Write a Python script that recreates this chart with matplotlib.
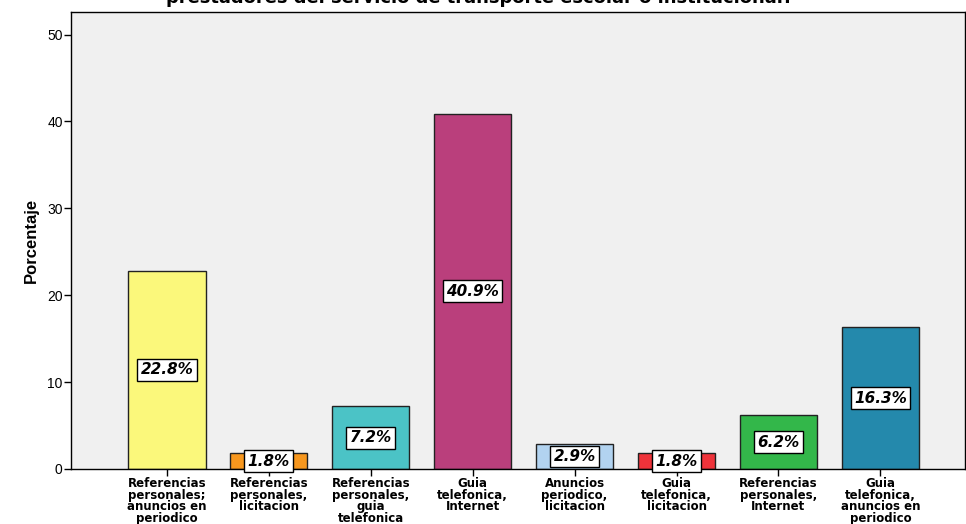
import matplotlib
matplotlib.use("Agg")
import matplotlib.pyplot as plt
import numpy as np

categorias = [
    "Referencias\npersonales;\nanuncios en\nperiodico",
    "Referencias\npersonales,\nlicitacion",
    "Referencias\npersonales,\nguia\ntelefonica",
    "Guia\ntelefonica,\nInternet",
    "Anuncios\nperiodico,\nlicitacion",
    "Guia\ntelefonica,\nlicitacion",
    "Referencias\npersonales,\nInternet",
    "Guia\ntelefonica,\nanuncios en\nperiodico",
]
porcentajes = [22.8, 1.8, 7.2, 40.9, 2.9, 1.8, 6.2, 16.3]
colores = ["#FBF87B", "#F7971E", "#4BC3C6", "#BA3F7C",
           "#B2D3F0", "#EE333A", "#33B74A", "#2489AC"]

titulo = "prestadores del servicio de transporte escolar o institucional?"

fig = plt.figure(figsize=(9.66, 5.24), dpi=100)
ax = fig.add_axes([71 / 966, 55 / 524, 894 / 966, 457 / 524])
ax.set_facecolor("#F0F0F0")

x = np.arange(len(porcentajes))
ax.bar(x, porcentajes, width=0.76, color=colores, edgecolor="#222222",
       linewidth=1.0, zorder=2)

for xi, v in zip(x, porcentajes):
    ax.text(xi, v / 2, f"{v:.1f}%", ha="center", va="center",
            family="DejaVu Sans", fontsize=11, fontweight="bold",
            style="italic", zorder=3,
            bbox=dict(boxstyle="square,pad=0.22", fc="white",
                      ec="black", lw=1.0))

ax.set_xlim(-0.94, 7.83)
ax.set_ylim(0, 52.6)
ax.set_yticks([0, 10, 20, 30, 40, 50])
ax.set_xticks(x)
ax.set_xticklabels(categorias, family="DejaVu Sans", fontsize=8.5,
                   fontweight="bold", linespacing=0.84)
for lbl in ax.get_yticklabels():
    lbl.set_family("Liberation Sans")
    lbl.set_fontsize(10)
ax.tick_params(axis="both", direction="out", length=5, width=1,
               color="black")
ax.tick_params(axis="x", pad=1)
ax.tick_params(axis="y", pad=1)

for s in ax.spines.values():
    s.set_color("black")
    s.set_linewidth(1.0)

ax.set_ylabel("Porcentaje", family="Liberation Sans", fontsize=12,
              fontweight="bold", labelpad=6)

fig.text(480 / 966, 1 - 3 / 524, titulo, ha="center", va="baseline",
         family="DejaVu Sans", fontsize=12.9, fontweight="bold")

fig.savefig("out.png", dpi=100)
